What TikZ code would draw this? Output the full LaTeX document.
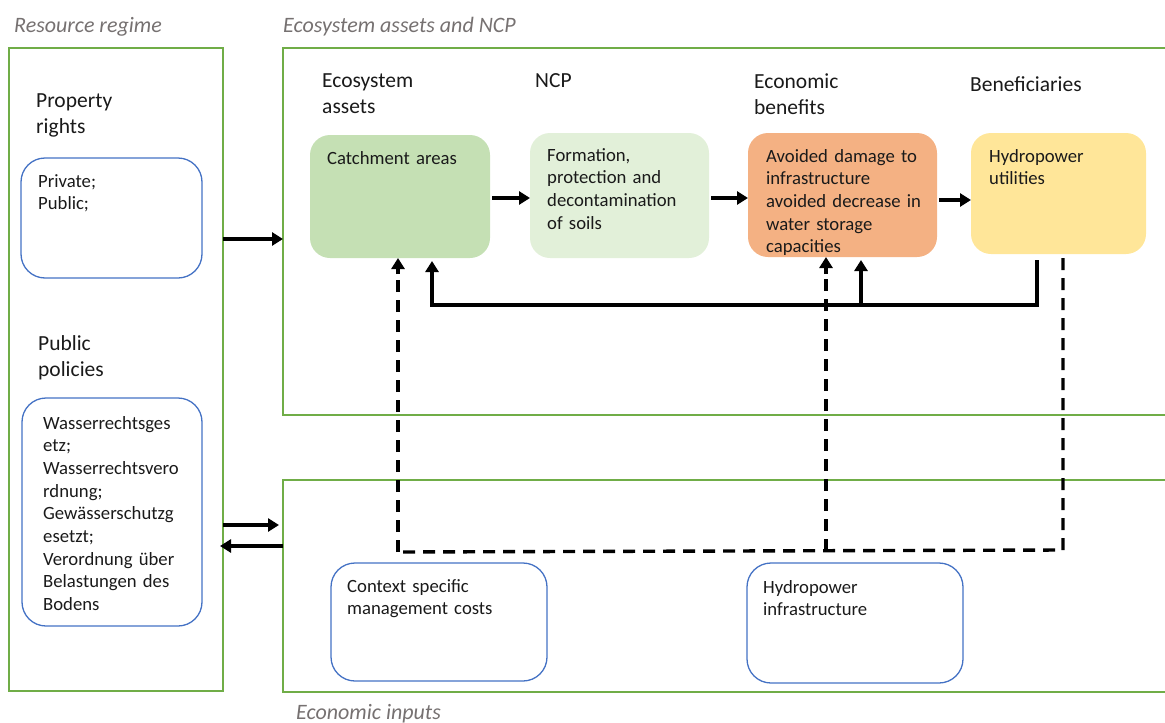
\documentclass[tikz,border=0pt]{standalone}
\usepackage{fontspec}
\setmainfont{Carlito}
\usetikzlibrary{arrows.meta}
\definecolor{panelgreen}{HTML}{70AD47}
\definecolor{boxblue}{HTML}{4472C4}
\definecolor{catchfill}{HTML}{C5E0B4}
\definecolor{formfill}{HTML}{E2F0D9}
\definecolor{orangefill}{HTML}{F4B183}
\definecolor{yellowfill}{HTML}{FFE699}
\definecolor{titlegray}{HTML}{767171}
\definecolor{txt}{HTML}{1A1A1A}
\begin{document}
\begin{tikzpicture}[x=1pt,y=-1pt,
  panel/.style={draw=panelgreen, line width=1.4pt, anchor=north west, inner sep=0pt, outer sep=0pt},
  bluebox/.style={draw=boxblue, line width=1.3pt, rounded corners=24pt, anchor=north west, inner sep=0pt, outer sep=0pt},
  fillbox/.style={rounded corners=20pt, anchor=north west, inner sep=0pt, outer sep=0pt},
  title/.style={font=\fontsize{22}{26}\selectfont\itshape, text=titlegray, anchor=base west, inner sep=0pt},
  head/.style={font=\fontsize{21.5}{26}\selectfont, text=txt, anchor=base west, inner sep=0pt, text width=200pt, align=left},
  body/.style={font=\fontsize{18.7}{22.7}\selectfont, text=txt, anchor=base west, inner sep=0pt, text width=260pt, align=left},
  arr/.style={line width=3.4pt, -{Triangle[length=11pt,width=13pt]}},
  dline/.style={line width=3.4pt, dash pattern=on 12pt off 8pt}
]
\useasboundingbox (0,0) rectangle (1165,723);

% panels
\node[panel, minimum width=214pt, minimum height=643pt] (rr) at (9,48) {};
\node[panel, minimum width=900pt, minimum height=367pt] (eco) at (283,48) {};
\node[panel, minimum width=900pt, minimum height=212pt] (inp) at (283,480) {};

% panel titles
\node[title] (t1) at (14,32) {Resource regime};
\node[title] (t2) at (283,32) {Ecosystem assets and NCP};
\node[title] (t3) at (296,719) {Economic inputs};

% left panel
\node[head] (h1) at (36,107) {Property\\rights};
\node[bluebox, minimum width=181pt, minimum height=120pt] (prop) at (21,158) {};
\node[body] (tp) at (38,187) {Private;\\Public;};
\node[head] (h2) at (38,350) {Public\\policies};
\node[bluebox, minimum width=180pt, minimum height=228pt] (pol) at (22,398) {};
\node[body] (tpol) at (43,429) {Wasserrechtsges\\etz;\\Wasserrechtsvero\\rdnung;\\Gewässerschutzg\\esetzt;\\Verordnung über\\Belastungen des\\Bodens};

% top panel headings
\node[head] (h3) at (322,87) {Ecosystem\\assets};
\node[head] (h4) at (535,87) {NCP};
\node[head] (h5) at (754,88) {Economic\\benefits};
\node[head] (h6) at (970,91) {Beneficiaries};

% top panel boxes
\node[fillbox, fill=catchfill, minimum width=180pt, minimum height=123pt] (catch) at (310,135) {};
\node[body] (tc) at (327,164) {Catchment areas};
\node[fillbox, fill=formfill, minimum width=179pt, minimum height=125pt] (form) at (530,133) {};
\node[body] (tf) at (547,161) {Formation,\\protection and\\decontamination\\of soils};
\node[fillbox, fill=orangefill, minimum width=189pt, minimum height=124pt] (ben) at (748,133) {};
\node[body] (tb) at (766,162) {Avoided damage to\\infrastructure\\avoided decrease in\\water storage\\capacities};
\node[fillbox, fill=yellowfill, minimum width=175pt, minimum height=121pt] (util) at (971,133) {};
\node[body] (tu) at (989,162) {Hydropower\\utilities};

% bottom panel boxes
\node[bluebox, minimum width=216pt, minimum height=118pt] (ctx) at (331,563) {};
\node[body] (tctx) at (347,592) {Context specific\\management costs};
\node[bluebox, minimum width=216pt, minimum height=120pt] (hyd) at (747,563) {};
\node[body] (thyd) at (763,593) {Hydropower\\infrastructure};

% arrows between top boxes
\coordinate (a1) at (492,198);
\coordinate (a2) at (711,198);
\coordinate (a3) at (939,200);
\draw[arr] (catch.east |- a1) ++(2,0) -- (form.west |- a1);
\draw[arr] (form.east |- a2) ++(2,0) -- (ben.west |- a2);
\draw[arr] (ben.east |- a3) ++(2,0) -- (util.west |- a3);

% arrows between panels
\coordinate (p1) at (0,239);
\coordinate (p2) at (0,525);
\coordinate (p3) at (0,546);
\draw[arr] (rr.east |- p1) -- (eco.west |- p1);
\draw[arr, shorten >=4pt] (rr.east |- p2) -- (inp.west |- p2);
\draw[arr, shorten >=-3pt] (inp.west |- p3) -- (rr.east |- p3);

% solid feedback
\coordinate (s1) at (432,305);
\coordinate (s2) at (861,305);
\coordinate (s3) at (1037,305);
\draw[arr, shorten <=6pt, shorten >=3pt] (util.south -| s3) -- (s3) -- (s1) -- (catch.south -| s1);
\draw[arr, shorten >=3pt] (s2) -- (ben.south -| s2);

% dashed links
\coordinate (d1) at (398,552);
\coordinate (d2) at (826,551);
\coordinate (d3) at (1063,550);
\draw[dline] (util.south -| d3) ++(0,4) -- (d3) -- (d1);
\draw[dline] (d1) -- (398,276);
\draw[arr] (398,274) -- (catch.south -| d1);
\draw[dline] (d2) -- (826,276);
\draw[arr] (826,274) -- (ben.south -| d2);
\end{tikzpicture}
\end{document}
